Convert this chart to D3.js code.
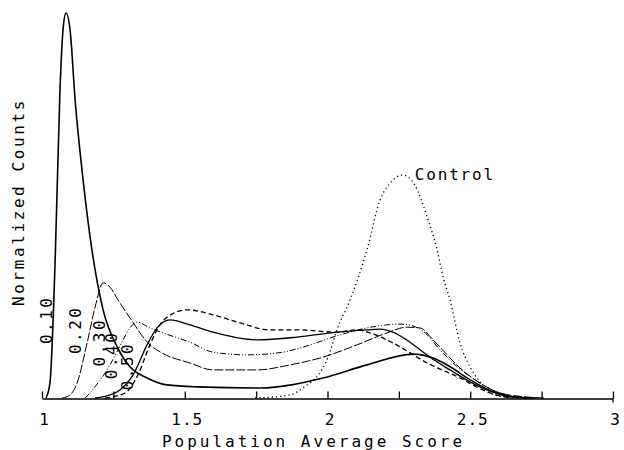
<!DOCTYPE html>
<html lang="en">
<head>
<meta charset="UTF-8">
<title>Normalized Counts</title>
<script src="https://d3js.org/d3.v7.min.js"></script>
<style>
  body { margin: 0; background: #fff; }
  text { font-family: "DejaVu Sans Mono", monospace; font-size: 16px; fill: #000; }
</style>
</head>
<body>
<script>
// x axis ticks
var majorTicks = [1, 1.5, 2, 2.5, 3];
var allTicks = [1, 1.25, 1.5, 1.75, 2, 2.25, 2.5, 2.75, 3];

// curves (score, normalized count)
var x10 = [1.014, 1.028, 1.046, 1.063, 1.074, 1.084, 1.098, 1.116, 1.144, 1.175, 1.214, 1.263, 1.308, 1.368, 1.438, 1.543, 1.764, 1.984, 2.138, 2.30, 2.37, 2.43, 2.50, 2.58, 2.64, 2.71];
var y10 = [0, 0.04, 0.356, 0.80, 0.96, 1.0, 0.958, 0.774, 0.566, 0.384, 0.229, 0.133, 0.081, 0.052, 0.034, 0.029, 0.026, 0.052, 0.086, 0.114, 0.104, 0.081, 0.047, 0.016, 0.003, 0];

var x20 = [1.07, 1.088, 1.123, 1.158, 1.186, 1.214, 1.238, 1.266, 1.308, 1.378, 1.42, 1.518, 1.599, 1.753, 1.869, 1.984, 2.103, 2.208, 2.278, 2.324, 2.37, 2.419, 2.464, 2.534, 2.604, 2.692, 2.762];
var y20 = [0, 0.003, 0.039, 0.143, 0.236, 0.299, 0.288, 0.255, 0.208, 0.138, 0.117, 0.091, 0.073, 0.073, 0.086, 0.106, 0.138, 0.169, 0.184, 0.182, 0.151, 0.112, 0.078, 0.039, 0.013, 0.003, 0];

var x30 = [1.151, 1.168, 1.196, 1.228, 1.284, 1.308, 1.333, 1.378, 1.424, 1.518, 1.599, 1.718, 1.844, 1.904, 2.044, 2.138, 2.208, 2.254, 2.30, 2.342, 2.394, 2.447, 2.517, 2.587, 2.674, 2.744];
var y30 = [0, 0.013, 0.039, 0.073, 0.151, 0.182, 0.197, 0.182, 0.169, 0.145, 0.119, 0.112, 0.119, 0.130, 0.164, 0.182, 0.190, 0.192, 0.187, 0.169, 0.125, 0.086, 0.047, 0.018, 0.003, 0];

var x40 = [1.186, 1.238, 1.273, 1.319, 1.368, 1.403, 1.448, 1.518, 1.599, 1.753, 1.893, 2.033, 2.138, 2.184, 2.229, 2.289, 2.359, 2.429, 2.499, 2.569, 2.657, 2.727];
var y40 = [0, 0.008, 0.021, 0.060, 0.138, 0.182, 0.203, 0.190, 0.171, 0.151, 0.158, 0.171, 0.177, 0.179, 0.171, 0.145, 0.106, 0.073, 0.042, 0.018, 0.003, 0];

var x50 = [1.221, 1.291, 1.336, 1.378, 1.413, 1.455, 1.508, 1.599, 1.694, 1.799, 1.893, 2.033, 2.103, 2.149, 2.229, 2.349, 2.464, 2.559, 2.639];
var y50 = [0, 0.013, 0.060, 0.138, 0.190, 0.218, 0.229, 0.216, 0.195, 0.177, 0.177, 0.171, 0.177, 0.169, 0.143, 0.091, 0.052, 0.016, 0];

var xControl = [1.746, 1.869, 1.928, 1.963, 2.002, 2.033, 2.079, 2.138, 2.184, 2.219, 2.264, 2.306, 2.349, 2.384, 2.405, 2.429, 2.464, 2.499, 2.534, 2.569, 2.622, 2.692];
var yControl = [0, 0.008, 0.034, 0.055, 0.106, 0.177, 0.255, 0.384, 0.514, 0.558, 0.579, 0.553, 0.470, 0.384, 0.314, 0.255, 0.143, 0.081, 0.042, 0.013, 0.003, 0];

var width = 624, height = 450;
var svg = d3.select("body").append("svg")
    .attr("width", width)
    .attr("height", height);

var x = d3.scaleLinear().domain([1, 3]).range([42, 613]);
var y = d3.scaleLinear().domain([0, 1]).range([398, 13]);

var series = [
  {name: "0.10", xs: x10, ys: y10, dash: null, w: 1.6, label: [1.0175, 0.203]},
  {name: "0.20", xs: x20, ys: y20, dash: "9,2", w: 1.0, label: [1.116, 0.177]},
  {name: "0.30", xs: x30, ys: y30, dash: "6,2,1,2,1,2", w: 1.0, label: [1.200, 0.145]},
  {name: "0.40", xs: x40, ys: y40, dash: null, w: 1.3, label: [1.245, 0.112]},
  {name: "0.50", xs: x50, ys: y50, dash: "5,3", w: 1.3, label: [1.301, 0.083]},
  {name: "Control", xs: xControl, ys: yControl, dash: "1.2,3", w: 1.3, label: null}
];

var line = d3.line()
    .x(function(d) { return x(d[0]); })
    .y(function(d) { return y(d[1]); })
    .curve(d3.curveMonotoneX);

svg.selectAll("path.curve")
  .data(series)
  .enter()
  .append("path")
    .attr("class", "curve")
    .attr("fill", "none")
    .attr("stroke", "#000")
    .attr("stroke-width", function(d) { return d.w; })
    .attr("stroke-dasharray", function(d) { return d.dash; })
    .attr("d", function(d) { return line(d3.zip(d.xs, d.ys)); });

// rotated curve labels
svg.selectAll("text.clabel")
  .data(series.filter(function(d) { return d.label; }))
  .enter()
  .append("text")
    .attr("class", "clabel")
    .attr("text-anchor", "middle")
    .attr("dominant-baseline", "central")
    .attr("letter-spacing", "2.5px")
    .attr("transform", function(d) {
      return "translate(" + x(d.label[0]) + "," + y(d.label[1]) + ") rotate(-90)";
    })
    .text(function(d) { return d.name; });

svg.append("text")
    .attr("x", x(2.306))
    .attr("y", y(0.566))
    .attr("letter-spacing", "1.8px")
    .text("Control");

// x axis, ticks pointing up
var axis = svg.append("g")
    .attr("transform", "translate(0," + 398.5 + ")")
    .call(d3.axisBottom(x)
      .tickValues(allTicks)
      .tickSize(-7)
      .tickSizeOuter(0)
      .tickPadding(15)
      .tickFormat(function(d) { return majorTicks.indexOf(d) >= 0 ? d : ""; }));

axis.select(".domain").attr("stroke-width", 1.6);
axis.selectAll(".tick line").attr("stroke-width", 1.3);
axis.selectAll(".tick text")
    .attr("font-family", "DejaVu Sans Mono, monospace")
    .attr("font-size", 16)
    .attr("letter-spacing", "1px")
    .attr("dx", 2);

// end tick at 3 runs a bit below the axis
axis.append("line")
    .attr("x1", x(3)).attr("x2", x(3))
    .attr("y1", 0).attr("y2", 4)
    .attr("stroke", "#000")
    .attr("stroke-width", 1.3);

svg.append("text")
    .attr("x", (x(1) + x(3)) / 2 - 14)
    .attr("y", 447)
    .attr("text-anchor", "middle")
    .attr("letter-spacing", "3px")
    .text("Population Average Score");

svg.append("text")
    .attr("transform", "translate(24," + 202 + ") rotate(-90)")
    .attr("text-anchor", "middle")
    .attr("letter-spacing", "2.6px")
    .text("Normalized Counts");
</script>
</body>
</html>
